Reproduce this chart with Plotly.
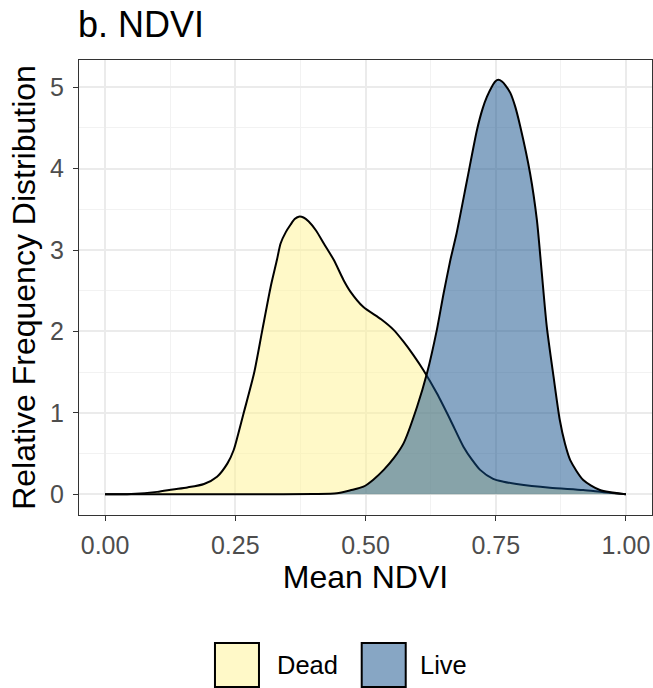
import plotly.graph_objects as go

# Kernel density estimates of mean NDVI per tree status
dead_x = [0.00, 0.05, 0.10, 0.13, 0.158, 0.19, 0.215, 0.235, 0.247, 0.256, 0.266, 0.286, 0.302,
          0.318, 0.33, 0.337, 0.347, 0.356, 0.364, 0.372, 0.381, 0.391, 0.405, 0.42, 0.439, 0.458,
          0.471, 0.496, 0.53, 0.554, 0.573, 0.592, 0.611, 0.637, 0.663, 0.688, 0.705, 0.72, 0.745,
          0.765, 0.79, 0.854, 0.918, 0.957, 1.00]
dead_y = [0.00, 0.005, 0.03, 0.06, 0.085, 0.127, 0.216, 0.38, 0.544, 0.75, 0.995, 1.486, 2.02,
          2.55, 2.88, 3.08, 3.22, 3.31, 3.38, 3.41, 3.40, 3.35, 3.24, 3.08, 2.88, 2.63,
          2.49, 2.30, 2.15, 2.02, 1.875, 1.71, 1.527, 1.24, 0.913, 0.585, 0.42, 0.30, 0.19,
          0.155, 0.127, 0.081, 0.053, 0.025, 0.00]

live_x = [0.00, 0.30, 0.40, 0.445, 0.471, 0.496, 0.515, 0.535, 0.555, 0.573, 0.599, 0.618,
          0.637, 0.65, 0.663, 0.675, 0.695, 0.714, 0.725, 0.733, 0.742, 0.749, 0.755, 0.762,
          0.769, 0.778, 0.787, 0.797, 0.816, 0.829, 0.838, 0.848, 0.861, 0.873, 0.883, 0.893,
          0.918, 0.95, 1.00]
live_y = [0.00, 0.00, 0.003, 0.012, 0.05, 0.094, 0.18, 0.30, 0.45, 0.626, 1.076, 1.486,
          2.02, 2.47, 2.88, 3.21, 3.86, 4.475, 4.74, 4.88, 5.00, 5.07, 5.09, 5.07,
          5.02, 4.93, 4.77, 4.52, 3.94, 3.37, 2.75, 2.06, 1.445, 0.913, 0.62, 0.42,
          0.176, 0.053, 0.00]

groups = ["Dead", "Live"]
x_ticks = [0.0, 0.25, 0.5, 0.75, 1.0]
x_tick_labels = ["0.00", "0.25", "0.50", "0.75", "1.00"]
y_ticks = [0, 1, 2, 3, 4, 5]

FONT = "Liberation Sans, Arial, Helvetica, sans-serif"
fills = {"Dead": "rgba(255, 243, 145, 0.5)", "Live": "rgba(15, 77, 137, 0.5)"}
key_fills = {"Dead": "#FFF9C8", "Live": "#87A6C4"}

fig = go.Figure()
for name, xs, ys in [("Dead", dead_x, dead_y), ("Live", live_x, live_y)]:
    fig.add_trace(go.Scatter(
        x=xs, y=ys, mode="lines", name=name, showlegend=False,
        line=dict(color="black", width=2, shape="spline", smoothing=0.7),
        fill="tozeroy", fillcolor=fills[name],
    ))

axis_common = dict(
    showline=True, mirror=True, linecolor="#333333", linewidth=1.3,
    ticks="outside", ticklen=5, tickwidth=1.1, tickcolor="#333333",
    showgrid=True, gridcolor="#EBEBEB", gridwidth=1.6, zeroline=False,
    tickfont=dict(family=FONT, size=25, color="#4D4D4D"),
)

fig.update_xaxes(
    range=[-0.05, 1.05], tickvals=x_ticks, ticktext=x_tick_labels,
    minor=dict(dtick=0.125, tick0=0, showgrid=True, gridcolor="#F2F2F2", gridwidth=0.9, ticks=""),
    title=dict(text="Mean NDVI", font=dict(family=FONT, size=32, color="black"), standoff=6),
    ticklabelstandoff=3,
    **axis_common,
)
fig.update_yaxes(
    range=[-0.254, 5.334], tickvals=y_ticks,
    minor=dict(dtick=0.5, tick0=0, showgrid=True, gridcolor="#F2F2F2", gridwidth=0.9, ticks=""),
    title=dict(text="Relative Frequency Distribution", font=dict(family=FONT, size=32, color="black"), standoff=4),
    ticklabelstandoff=4,
    **axis_common,
)

# Legend keys and labels drawn below the panel
key_pos = {"Dead": (0.2373, 0.3141), "Live": (0.4934, 0.5702)}
label_pos = {"Dead": 0.3420, "Live": 0.5912}
for name in groups:
    x0, x1 = key_pos[name]
    fig.add_shape(type="rect", xref="paper", yref="paper", x0=x0, x1=x1, y0=-0.378, y1=-0.2813,
                  fillcolor=key_fills[name], line=dict(color="black", width=2))
    fig.add_annotation(xref="paper", yref="paper", x=label_pos[name], y=-0.3297,
                       text=name, showarrow=False, xanchor="left", yanchor="middle",
                       font=dict(family=FONT, size=25.5, color="black"))

fig.update_layout(
    width=653, height=688,
    margin=dict(l=79, r=1, t=60, b=173),
    paper_bgcolor="white", plot_bgcolor="white",
    title=dict(text="b. NDVI", x=78 / 653, xanchor="left", xref="container",
               y=1 - 24 / 688, yanchor="middle", yref="container",
               font=dict(family=FONT, size=36, color="black")),
)

fig.write_html("out.html")
